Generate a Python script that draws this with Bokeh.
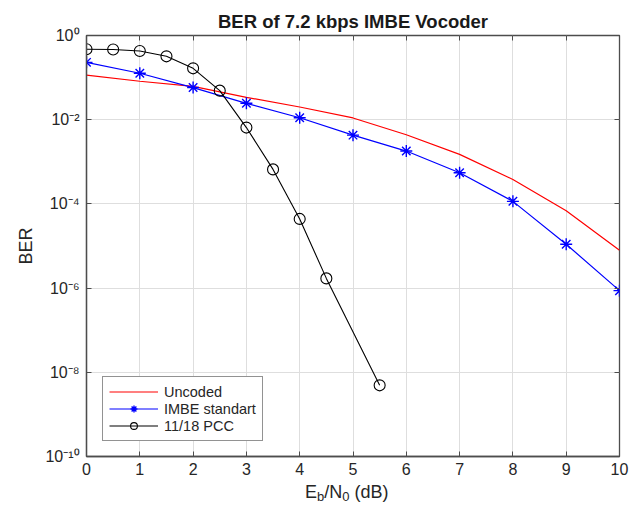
from bokeh.plotting import figure
from bokeh.layouts import column
from bokeh.models import (FixedTicker, CustomJSTickFormatter, LinearAxis,
                          LogAxis, Range1d, Div)
from bokeh.embed import file_html
from bokeh.resources import INLINE

# ---------------- data ----------------
title_text = "BER of 7.2 kbps IMBE Vocoder"
y_label = "BER"
x_label_html = ('E<sub style="font-size:13px;vertical-align:-3px">b</sub>/N'
                '<sub style="font-size:13px;vertical-align:-3px">0</sub> (dB)')

eb_n0 = [0, 1, 2, 3, 4, 5, 6, 7, 8, 9, 10]
uncoded = [0.115, 0.082, 0.062, 0.034, 0.020, 0.011, 4.4e-3, 1.5e-3, 3.8e-4, 6.9e-5, 7.9e-6]
imbe = [0.23, 0.127, 0.058, 0.0245, 0.0111, 4.3e-3, 1.8e-3, 5.5e-4, 1.15e-4, 1.1e-5, 8.7e-7]

pcc_x = [0, 0.5, 1, 1.5, 2, 2.5, 3, 3.5, 4, 4.5, 5.5]
pcc = [0.47, 0.465, 0.43, 0.32, 0.166, 0.049, 6.5e-3, 6.6e-4, 4.4e-5, 1.7e-6, 4.9e-9]

series_labels = ["Uncoded", "IMBE standart", "11/18 PCC"]

x_ticks = [0, 1, 2, 3, 4, 5, 6, 7, 8, 9, 10]
y_ticks = [1e-10, 1e-8, 1e-6, 1e-4, 1e-2, 1.0]
y_tick_labels = ["10\u207b\u00b9\u2070", "10\u207b\u2078", "10\u207b\u2076",
                 "10\u207b\u2074", "10\u207b\u00b2", "10\u2070"]

# ---------------- figure ----------------
FONT = "Liberation Sans"
TXT = "#262626"
AX = "#4d4d4d"

p = figure(width=632, height=482, y_axis_type="log",
           x_range=Range1d(0, 10), y_range=Range1d(1e-10, 1),
           output_backend="svg", toolbar_location=None,
           min_border_left=86, min_border_right=13,
           min_border_top=35, min_border_bottom=26)

p.title.text = title_text
p.title.text_font = FONT
p.title.text_font_size = "18.5px"
p.title.text_font_style = "bold"
p.title.text_color = "#1a1a1a"
p.title.align = "center"
p.title.standoff = 7

p.outline_line_color = AX
p.outline_line_width = 1.3

# series
p.line(eb_n0, uncoded, line_color="#ff0000", line_width=1.2, legend_label=series_labels[0])
p.line(eb_n0, imbe, line_color="#0000ff", line_width=1.2, legend_label=series_labels[1])
p.scatter(eb_n0, imbe, marker="asterisk", size=12, line_color="#0000ff", line_width=1.4,
          legend_label=series_labels[1])
p.line(pcc_x, pcc, line_color="#000000", line_width=1.1, legend_label=series_labels[2])
p.scatter(pcc_x, pcc, marker="circle", size=11, line_color="#000000", fill_color=None,
          line_width=1.1, legend_label=series_labels[2])

# axes
xa = p.xaxis[0]
xa.ticker = FixedTicker(ticks=x_ticks)
ya = p.yaxis[0]
ya.ticker = FixedTicker(ticks=y_ticks)
ya.formatter = CustomJSTickFormatter(args=dict(vals=y_ticks, labs=y_tick_labels), code="""
let best = 0, bd = Infinity;
for (let i = 0; i < vals.length; i++) {
  const d = Math.abs(Math.log10(vals[i]) - Math.log10(tick));
  if (d < bd) { bd = d; best = i; }
}
return labs[best];
""")
for ax in (xa, ya):
    ax.major_tick_in = 5
    ax.major_tick_out = 0
    ax.minor_tick_in = 0
    ax.minor_tick_out = 0
    ax.axis_line_color = AX
    ax.axis_line_width = 1.3
    ax.major_tick_line_color = AX
    ax.major_label_text_font = FONT
    ax.major_label_text_font_size = "16px"
    ax.major_label_text_color = TXT
ya.major_label_standoff = 7
xa.major_label_standoff = 6
ya.axis_label = y_label
ya.axis_label_text_font = FONT
ya.axis_label_text_font_size = "18px"
ya.axis_label_text_font_style = "normal"
ya.axis_label_text_color = TXT
ya.axis_label_standoff = 6

empty = CustomJSTickFormatter(code="return '';")
top = LinearAxis(ticker=FixedTicker(ticks=x_ticks), formatter=empty,
                 major_tick_in=5, major_tick_out=0, minor_tick_in=0, minor_tick_out=0,
                 axis_line_color=None, major_tick_line_color=AX, major_label_standoff=0)
right = LogAxis(ticker=FixedTicker(ticks=y_ticks), formatter=empty,
                major_tick_in=5, major_tick_out=0, minor_tick_in=0, minor_tick_out=0,
                axis_line_color=None, major_tick_line_color=AX, major_label_standoff=0)
p.add_layout(top, "above")
p.add_layout(right, "right")

# grid
p.xgrid.ticker = FixedTicker(ticks=x_ticks)
p.ygrid.ticker = FixedTicker(ticks=y_ticks)
for g in (p.xgrid[0], p.ygrid[0]):
    g.grid_line_color = "#dedede"
    g.grid_line_width = 1

# legend
lg = p.legend[0]
lg.location = (16, 15)
lg.label_text_font = FONT
lg.label_text_font_size = "14.5px"
lg.label_text_color = TXT
lg.glyph_width = 49
lg.glyph_height = 17
lg.label_height = 17
lg.label_standoff = 6
lg.padding = 6
lg.spacing = 0
lg.margin = 0
lg.border_line_color = "#262626"
lg.border_line_width = 1
lg.background_fill_color = "white"
lg.background_fill_alpha = 1

# x-axis label (with subscripts) as real HTML text below the plot
xlabel = Div(text=x_label_html, width=120, height=24, margin=(0, 0, 0, 305),
             styles={"font-family": FONT, "font-size": "18px", "color": TXT,
                     "line-height": "20px", "white-space": "nowrap"})

layout = column(p, xlabel, spacing=0)

open("out.html", "w").write(file_html(layout, INLINE))
